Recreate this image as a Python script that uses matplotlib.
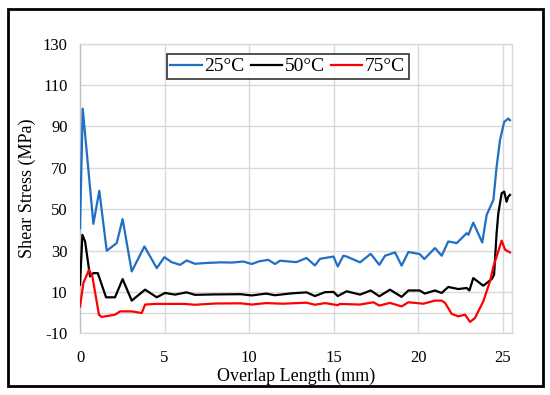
import matplotlib
matplotlib.use("Agg")
import matplotlib.pyplot as plt
from matplotlib.patches import Rectangle

plt.rcParams['font.family'] = ['Liberation Serif', 'DejaVu Serif']
plt.rcParams['axes.unicode_minus'] = False

series_names = ["25°C", "50°C", "75°C"]
series_colors = ["#1F6FC4", "#000000", "#FF0000"]

x_25 = [0, 0.16, 0.79, 1.14, 1.58, 2.17, 2.52, 3.06, 3.81, 4.54, 4.99, 5.42, 5.92, 6.31, 6.8,
        7.5, 8.3, 9.0, 9.66, 10.16, 10.6, 11.14, 11.54, 11.83, 12.8, 13.4, 13.9, 14.2, 15.0,
        15.25, 15.58, 15.78, 16.57, 17.2, 17.71, 18.05, 18.64, 19.03, 19.43, 20.1, 20.37,
        21.0, 21.4, 21.79, 22.29, 22.88, 22.98, 23.27, 23.8, 24.06, 24.46, 24.65, 24.85,
        25.1, 25.34, 25.44]
y_25 = [40.8, 98.6, 42.9, 58.9, 29.9, 33.6, 45.2, 19.9, 32.0, 21.5, 26.8, 24.4, 23.1, 25.2, 23.6,
        24.0, 24.3, 24.2, 24.7, 23.5, 24.8, 25.5, 23.5, 25.1, 24.4, 26.4, 22.8, 26.0, 27.1,
        22.3, 27.5, 27.1, 24.3, 28.4, 23.1, 27.5, 29.1, 22.7, 29.3, 28.3, 25.9,
        31.2, 27.5, 34.4, 33.6, 38.4, 37.6, 43.5, 33.9, 47.2, 54.5, 70.5, 83.4,
        92.2, 93.8, 93.0]

x_50 = [0, 0.14, 0.3, 0.59, 0.79, 1.05, 1.54, 2.07, 2.52, 3.06, 3.85, 4.54, 5.03, 5.62, 6.3,
        6.8, 8.0, 9.5, 10.16, 11.0, 11.54, 12.5, 13.4, 13.9, 14.5, 15.0, 15.25, 15.78, 16.57,
        17.2, 17.71, 18.34, 19.03, 19.43, 20.1, 20.4, 21.0, 21.4, 21.79, 22.38, 22.88, 23.04,
        23.27, 23.86, 24.36, 24.5, 24.65, 24.75, 24.95, 25.1, 25.24, 25.34, 25.44]
y_50 = [13.5, 37.6, 34.4, 17.5, 19.1, 19.1, 7.4, 7.4, 16.2, 5.8, 11.1, 7.4, 9.5, 8.7, 9.8,
        8.6, 8.8, 8.9, 8.3, 9.2, 8.4, 9.3, 9.8, 8.0, 9.9, 10.0, 8.0, 10.3, 8.7,
        10.7, 7.9, 11.1, 7.6, 10.7, 10.7, 9.2, 10.7, 9.5, 12.4, 11.4, 11.9, 10.7,
        16.7, 13.0, 16.2, 18.3, 38.4, 48.0, 57.7, 58.5, 53.6, 56.0, 56.9]

x_75 = [0, 0.2, 0.53, 0.73, 1.12, 1.28, 2.07, 2.37, 3.06, 3.65, 3.85, 4.44, 6.2, 6.8, 8.0,
        9.5, 10.16, 11.0, 12.0, 13.4, 13.9, 14.5, 15.25, 15.38, 16.57, 17.36, 17.71, 18.34,
        19.03, 19.43, 20.31, 21.0, 21.4, 21.6, 21.99, 22.38, 22.78, 23.08, 23.37, 23.86,
        24.26, 24.46, 24.65, 24.95, 25.15, 25.44]
y_75 = [3.0, 14.3, 20.7, 17.5, -1.0, -2.1, -1.0, 0.6, 0.6, -0.2, 3.9, 4.2, 4.2, 3.8, 4.4,
        4.5, 3.9, 4.6, 4.3, 4.8, 3.8, 4.6, 3.6, 4.2, 3.9, 5.0, 3.4, 4.7,
        3.0, 5.0, 4.3, 5.8, 5.8, 4.7, -0.6, -1.8, -1.0, -4.5, -2.6, 5.4,
        15.1, 22.3, 27.1, 34.8, 30.4, 29.1]

x_ticks = [0, 5, 10, 15, 20, 25]
y_ticks = [-10, 10, 30, 50, 70, 90, 110, 130]

fig = plt.figure(figsize=(5.5, 3.95), dpi=100)
ax = fig.add_axes([0.1455, 0.1562, 0.786, 0.7332])

grid_c = "#D9D9D9"
for xs, ys, name, c in zip([x_25, x_50, x_75], [y_25, y_50, y_75], series_names, series_colors):
    ax.plot(xs, ys, color=c, lw=1.6, label=name, zorder=3)

ax.set_xlim(0, 25.58)
ax.set_ylim(-10, 130)
ax.set_xticks(x_ticks)
ax.set_yticks(y_ticks)
ax.grid(True, color=grid_c, lw=1.0, zorder=0)
ax.axhline(0, color=grid_c, lw=1.0, zorder=1)
for s in ax.spines.values():
    s.set_color(grid_c)
    s.set_linewidth(1.0)
ax.spines['left'].set_color("#BFBFBF")
ax.tick_params(axis='x', length=0, labelsize=12, pad=12)
ax.tick_params(axis='y', length=0, labelsize=12, pad=9)
ax.set_xlabel("Overlap Length (mm)", fontsize=13, labelpad=1)
ax.set_ylabel("Shear Stress (MPa)", fontsize=13, labelpad=5)

leg = ax.legend(loc="upper center", bbox_to_anchor=(0.48, 0.9645), ncol=3, fontsize=14,
                frameon=True, fancybox=False, edgecolor="black", handlelength=1.6,
                handletextpad=0.15, columnspacing=0.3, borderpad=0.2, borderaxespad=0)
leg.get_frame().set_linewidth(1.2)

fig.patches.append(Rectangle((8 / 550, 1 - 386 / 395), 535 / 550, 377 / 395,
                             transform=fig.transFigure, fill=False, edgecolor="black",
                             lw=2.0, zorder=10))

fig.savefig("out.png", dpi=100)
